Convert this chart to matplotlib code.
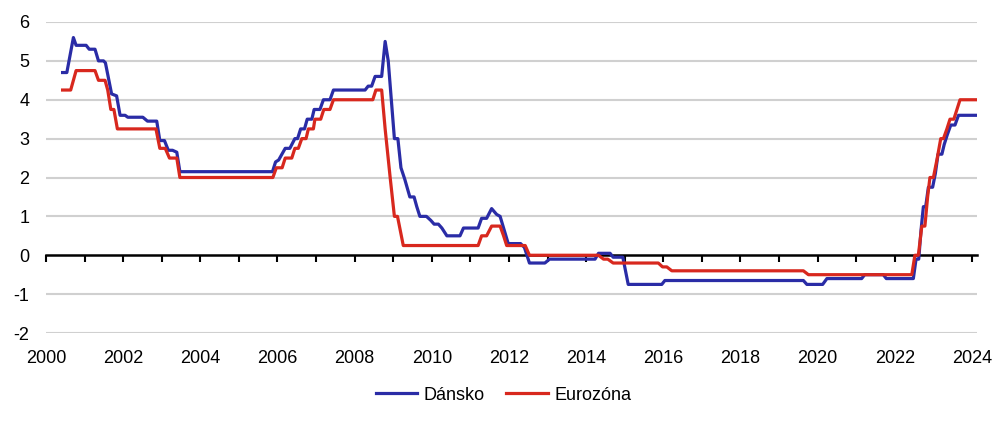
import numpy as np
import matplotlib
matplotlib.use("Agg")
import matplotlib.pyplot as plt

plt.rcParams['font.family'] = ['Liberation Sans', 'DejaVu Sans']
plt.rcParams['axes.unicode_minus'] = False

# Dánsko - body zlomu (rok, sazba v %)
dk_x = [2000.43, 2000.54, 2000.71, 2000.78, 2001.04, 2001.12, 2001.27, 2001.36, 2001.49, 2001.54,
        2001.70, 2001.83, 2001.92, 2002.05, 2002.12, 2002.51, 2002.63, 2002.87, 2002.95, 2003.07,
        2003.17, 2003.28, 2003.39, 2003.47, 2005.87, 2005.95, 2006.03, 2006.20, 2006.32, 2006.45,
        2006.52, 2006.60, 2006.70, 2006.77, 2006.89, 2006.95, 2007.10, 2007.19, 2007.36, 2007.45,
        2008.27, 2008.35, 2008.44, 2008.53, 2008.70, 2008.79, 2008.87, 2009.03, 2009.12, 2009.20,
        2009.30, 2009.43, 2009.54, 2009.61, 2009.69, 2009.86, 2009.97, 2010.06, 2010.17, 2010.26,
        2010.39, 2010.73, 2010.82, 2011.20, 2011.29, 2011.42, 2011.55, 2011.68, 2011.77, 2011.98,
        2012.30, 2012.40, 2012.53, 2012.93, 2013.05, 2014.23, 2014.32, 2014.62, 2014.70, 2014.95,
        2015.09, 2015.96, 2016.04, 2019.63, 2019.72, 2020.13, 2020.24, 2021.14, 2021.22, 2021.70,
        2021.78, 2022.48, 2022.55, 2022.62, 2022.68, 2022.74, 2022.80, 2022.87, 2022.98, 2023.05,
        2023.12, 2023.22, 2023.28, 2023.36, 2023.45, 2023.56, 2023.65, 2024.13]
dk_y = [4.70, 4.70, 5.60, 5.40, 5.40, 5.30, 5.30, 5.00, 5.00, 4.95,
        4.15, 4.10, 3.60, 3.60, 3.55, 3.55, 3.45, 3.45, 2.95, 2.95,
        2.70, 2.70, 2.65, 2.15, 2.15, 2.40, 2.45, 2.75, 2.75, 3.00,
        3.00, 3.25, 3.25, 3.50, 3.50, 3.75, 3.75, 4.00, 4.00, 4.25,
        4.25, 4.35, 4.35, 4.60, 4.60, 5.50, 5.00, 3.00, 3.00, 2.25,
        1.95, 1.50, 1.50, 1.25, 1.00, 1.00, 0.90, 0.80, 0.80, 0.70,
        0.50, 0.50, 0.70, 0.70, 0.95, 0.95, 1.20, 1.05, 1.00, 0.30,
        0.30, 0.20, -0.20, -0.20, -0.10, -0.10, 0.05, 0.05, -0.05, -0.05,
        -0.75, -0.75, -0.65, -0.65, -0.75, -0.75, -0.60, -0.60, -0.50, -0.50,
        -0.60, -0.60, -0.10, -0.10, 0.65, 1.25, 1.25, 1.75, 1.75, 2.10,
        2.60, 2.60, 2.85, 3.10, 3.35, 3.35, 3.60, 3.60]

# Eurozóna
ez_x = [2000.43, 2000.64, 2000.78, 2001.27, 2001.36, 2001.53, 2001.60, 2001.68, 2001.76, 2001.85,
        2002.85, 2002.95, 2003.09, 2003.20, 2003.39, 2003.47, 2005.88, 2005.97, 2006.12, 2006.20,
        2006.37, 2006.45, 2006.54, 2006.63, 2006.74, 2006.80, 2006.93, 2006.97, 2007.12, 2007.20,
        2007.36, 2007.45, 2008.47, 2008.55, 2008.70, 2008.79, 2008.92, 2009.03, 2009.11, 2009.26,
        2011.20, 2011.29, 2011.42, 2011.55, 2011.77, 2011.86, 2011.94, 2012.42, 2012.53, 2014.32,
        2014.45, 2014.56, 2014.70, 2015.87, 2015.98, 2016.09, 2016.22, 2019.63, 2019.76, 2022.44,
        2022.52, 2022.61, 2022.70, 2022.78, 2022.85, 2022.91, 2023.00, 2023.10, 2023.19, 2023.26,
        2023.35, 2023.43, 2023.53, 2023.61, 2023.69, 2024.13]
ez_y = [4.25, 4.25, 4.75, 4.75, 4.50, 4.50, 4.25, 3.75, 3.75, 3.25,
        3.25, 2.75, 2.75, 2.50, 2.50, 2.00, 2.00, 2.25, 2.25, 2.50,
        2.50, 2.75, 2.75, 3.00, 3.00, 3.25, 3.25, 3.50, 3.50, 3.75,
        3.75, 4.00, 4.00, 4.25, 4.25, 3.25, 2.00, 1.00, 1.00, 0.25,
        0.25, 0.50, 0.50, 0.75, 0.75, 0.50, 0.25, 0.25, 0.00, 0.00,
        -0.10, -0.10, -0.20, -0.20, -0.30, -0.30, -0.40, -0.40, -0.50, -0.50,
        0.00, 0.00, 0.75, 0.75, 1.50, 2.00, 2.00, 2.50, 3.00, 3.00,
        3.25, 3.50, 3.50, 3.75, 4.00, 4.00]

fig = plt.figure(figsize=(10.01, 4.25), dpi=100)
ax = fig.add_axes([46/1001, 1-333/425, (977-46)/1001, (333-22)/425])

ax.plot(dk_x, dk_y, color='#2a2ca6', lw=2.3, label='Dánsko')
ax.plot(ez_x, ez_y, color='#d8281e', lw=2.3, label='Eurozóna')

ax.set_xlim(2000, 2024.13)
ax.set_ylim(-2, 6)
ax.set_yticks(range(-2, 7))
ax.set_xticks(range(2000, 2025, 2))
for v in range(-2, 7):
    if v != 0:
        ax.axhline(v, color='#d0d0d0', lw=1.5, zorder=0)
for s in ax.spines.values():
    s.set_visible(False)
ax.tick_params(axis='both', length=0, labelsize=13, colors='black')
ax.tick_params(axis='x', pad=12)
ax.tick_params(axis='y', pad=12)

# nulova osa s rocnimi carkami
sec = ax.secondary_xaxis(0.25)
sec.set_xticks(range(2000, 2025), labels=[])
sec.tick_params(direction='out', length=5, width=1.5, color='black')
for s in sec.spines.values():
    s.set_linewidth(1.8)
    s.set_color('black')

fig.legend(loc='center', bbox_to_anchor=(0.503, 0.07), ncol=2, frameon=False,
           fontsize=13, handlelength=2.3, handletextpad=0.35, columnspacing=1.2)

fig.savefig('out.png', dpi=100)
